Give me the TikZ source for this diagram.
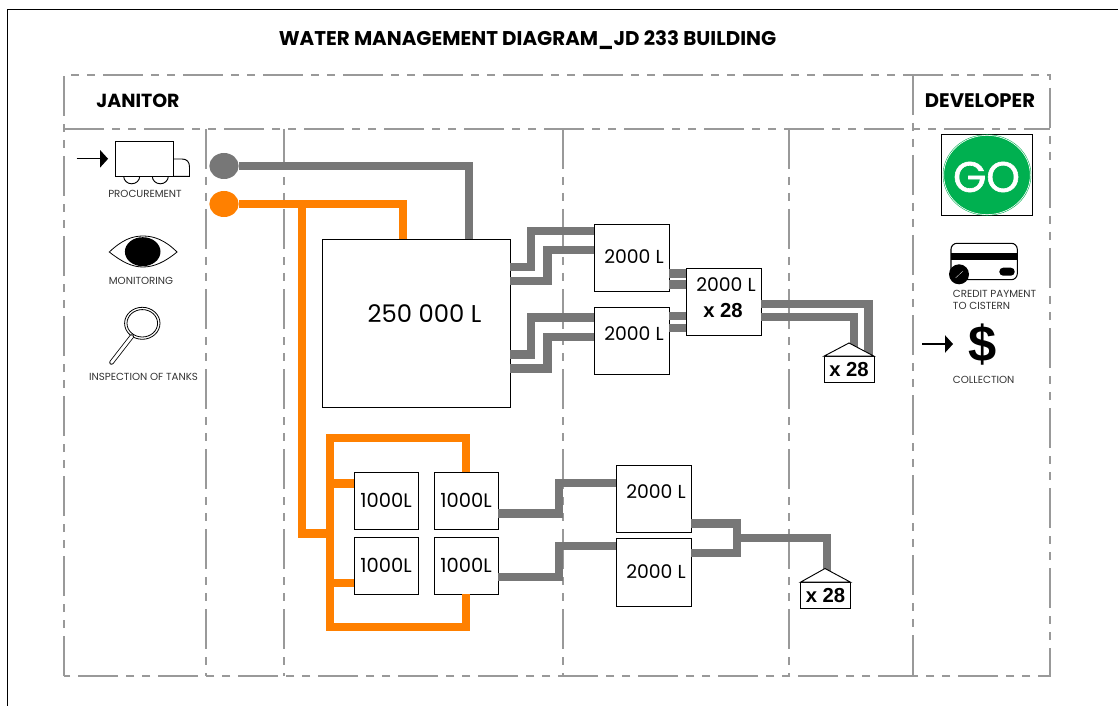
\documentclass[tikz,border=0pt]{standalone}
\usepackage{fontspec}
\setmainfont{Poppins}
\newfontfamily\plainbold{Liberation Sans}[BoldFont={Liberation Sans Bold}]
\newfontfamily\gofont{Poppins}[FakeBold=1.4]
\usetikzlibrary{arrows.meta,calc,positioning,shapes.geometric}
\definecolor{Grid}{HTML}{999999}
\definecolor{Pipe}{HTML}{777777}
\definecolor{Feed}{HTML}{FF8000}
\definecolor{Go}{HTML}{00B050}
\definecolor{Caption}{HTML}{333333}
\tikzset{
  gridline/.style={Grid,line width=0.85pt,dash pattern=on 30pt off 6pt on 6pt off 6pt on 6pt off 6pt},
  greypipe/.style={Pipe,line width=6.3pt},
  feedpipe/.style={Feed,line width=6.3pt},
  tank/.style={draw=black,line width=0.7pt,inner sep=0pt,outer sep=0pt,font=\fontsize{14.6}{16}\selectfont},
  tanktext/.style={inner sep=0pt,font=\fontsize{14.1}{16}\selectfont},
  housebox/.style={draw=black,line width=0.7pt,inner sep=0pt,outer sep=0pt,minimum width=37.5pt,minimum height=20pt,font=\plainbold\fontsize{15.2}{17}\selectfont\bfseries},
  roof/.style={draw=black,fill=white,line width=0.7pt,line join=miter},
  heading/.style={inner sep=0pt,font=\fontsize{14.2}{16}\selectfont\bfseries},
  caption/.style={inner sep=0pt,text=Caption,font=\fontsize{7.7}{8.6}\selectfont},
  source/.style={ellipse,inner sep=0pt,outer sep=0pt,minimum width=22pt,minimum height=19.5pt},
  inarrow/.style={black,line width=0.9pt,-{Triangle[length=6pt,width=13pt]}}
}
\begin{document}
\begin{tikzpicture}[x=0.75pt,y=-0.75pt]
    \useasboundingbox (0,0) rectangle (1118,706);
    \draw[black,line width=0.9pt] (7.5,706) -- (7.5,9.5) -- (1118,9.5);

    \draw[gridline] (64,676) -- (64,75) -- (1050,75) -- (1050,676) -- cycle;
    \draw[gridline] (64,129) -- (1050,129);
    \foreach \gx in {206,284,563,789} {
      \draw[gridline] (\gx,129) -- (\gx,676);
    }
    \draw[gridline] (913,75) -- (913,676);

    \node[inner sep=0pt,font=\fontsize{14.9}{17}\selectfont\bfseries] (title) at (527.5,40) {WATER MANAGEMENT DIAGRAM\_JD 233 BUILDING};
    \node[heading] (janitor) at (138,100.5) {JANITOR};
    \node[heading,font=\fontsize{14.7}{16}\selectfont\bfseries] (developer) at (980,100.5) {DEVELOPER};

    \node[tank,minimum width=141pt,minimum height=126pt] (cistern) at (416,323) {};
    \node[tanktext,font=\fontsize{18.2}{20}\selectfont] (cisterntext) at (424.5,314) {250 000 L};

    \node[tank,minimum width=56.25pt,minimum height=50.25pt] (upperone) at (631.5,257.5) {};
    \node[tanktext] (upperonetext) at (634,257) {2000 L};
    \node[tank,minimum width=56.25pt,minimum height=50.25pt] (uppertwo) at (631.5,340.5) {};
    \node[tanktext] (uppertwotext) at (634,334) {2000 L};
    \node[tank,minimum width=56.25pt,minimum height=50.25pt] (uppermain) at (723.5,301.5) {};
    \node[tanktext] (uppermaintext) at (726,285) {2000 L};
    \node[tanktext,font=\plainbold\fontsize{15.2}{17}\selectfont\bfseries] (uppermaincount) at (723,310.5) {x 28};

    \node[tank,minimum width=48pt,minimum height=42.75pt] (smallone) at (386,500.5) {1000L};
    \node[tank,minimum width=48pt,minimum height=42.75pt] (smalltwo) at (466,500.5) {1000L};
    \node[tank,minimum width=48pt,minimum height=42.75pt] (smallthree) at (386,565.5) {1000L};
    \node[tank,minimum width=48pt,minimum height=42.75pt] (smallfour) at (466,565.5) {1000L};

    \node[tank,minimum width=56.25pt,minimum height=50.25pt] (lowerone) at (653.5,498.5) {};
    \node[tanktext] (loweronetext) at (656,492) {2000 L};
    \node[tank,minimum width=56.25pt,minimum height=51pt] (lowertwo) at (653.5,572) {};
    \node[tanktext] (lowertwotext) at (656,572) {2000 L};

    \node[housebox] (houseone) at (849,369.5) {\raisebox{-1.2pt}{x 28}};
    \node[housebox] (housetwo) at (825.5,595.5) {\raisebox{-1.2pt}{x 28}};

    \node[source,fill=Pipe] (greysource) at (224,166) {};
    \node[source,fill=Feed] (feedsource) at (224,204) {};

    \draw[greypipe] (greysource) -| (cistern.north -| 469,0);
    \draw[feedpipe] (feedsource) -| (cistern.north -| 403,0);
    \draw[feedpipe] (302,204) |- (330,533.5);
    \draw[feedpipe] (smalltwo.north) |- (330,438) -- (330,627) -| (smallfour.south);
    \draw[feedpipe] (330,483.5) -- (smallone.west |- 0,483.5);
    \draw[feedpipe] (330,583) -- (smallthree.west |- 0,583);

    \draw[greypipe] (cistern.east |- 0,267) -| (531,231) -- (upperone.west |- 0,231);
    \draw[greypipe] (cistern.east |- 0,281) -| (547.5,250) -- (upperone.west |- 0,250);
    \draw[greypipe] (cistern.east |- 0,354.5) -| (531,317.5) -- (uppertwo.west |- 0,317.5);
    \draw[greypipe] (cistern.east |- 0,368.5) -| (547.5,337) -- (uppertwo.west |- 0,337);
    \draw[greypipe] (upperone.east |- 0,273.5) -- (uppermain.west |- 0,273.5);
    \draw[greypipe] (upperone.east |- 0,284.5) -- (uppermain.west |- 0,284.5);
    \draw[greypipe] (uppertwo.east |- 0,316) -- (uppermain.west |- 0,316);
    \draw[greypipe] (uppertwo.east |- 0,328) -- (uppermain.west |- 0,328);
    \draw[greypipe] (uppermain.east |- 0,304) -| (houseone.north -| 868.5,0);
    \draw[greypipe] (uppermain.east |- 0,317) -| (houseone.north -| 854,0);

    \draw[greypipe] (smalltwo.east |- 0,513.5) -| (559,483) -- (lowerone.west |- 0,483);
    \draw[greypipe] (smallfour.east |- 0,577) -| (559,546) -- (lowertwo.west |- 0,546);
    \draw[greypipe] (lowerone.east |- 0,523.5) -| (737,553) -- (lowertwo.east |- 0,553);
    \draw[greypipe] (737,538) -| (housetwo.north -| 827,0);

    \coordinate (roofone) at (849,343);
    \coordinate (rooftwo) at (825,568.5);
    \draw[roof] (houseone.north west) -- (roofone) -- (houseone.north east) -- cycle;
    \draw[roof] (housetwo.north west) -- (rooftwo) -- (housetwo.north east) -- cycle;

    \coordinate (truckin) at (76.5,158.8);
    \node[draw=black,line width=0.7pt,inner sep=0pt,outer sep=0pt,minimum width=43.3pt,minimum height=26.3pt] (truck) at (144.4,158.8) {};
    \draw[black,line width=0.7pt] (truck.east) ++(0,0.2) -- (182,159) .. controls (187,159) and (189.5,162) .. (189.5,167) -- (189.5,176.3) -- (173.3,176.3);
    \draw[black,line width=0.7pt] (123.7,176.3) arc[start angle=180,end angle=0,x radius=8,y radius=7.5];
    \draw[black,line width=0.7pt] (152.3,176.3) arc[start angle=180,end angle=0,x radius=8,y radius=7.5];
    \draw[inarrow,shorten >=5.6pt] (truckin) -- (truck);
    \node[caption] (procurement) at (145,194) {PROCUREMENT};

    \draw[black,line width=0.6pt] (109.3,252) .. controls (122,240) and (132,236) .. (143,236) .. controls (154,236) and (165,240) .. (177,252) .. controls (165,262) and (154,267) .. (143,267) .. controls (132,267) and (122,262) .. (109.3,252) -- cycle;
    \fill[black] (142.7,251.7) ellipse[x radius=17.8,y radius=14.5];
    \node[caption] (monitoring) at (141,280.5) {MONITORING};

    \draw[black,line width=0.6pt] (142.3,323.3) ellipse[x radius=17.7,y radius=16];
    \draw[black,line width=0.6pt] (142.3,323.3) ellipse[x radius=15.3,y radius=13.7];
    \draw[black,line width=3.4pt,line cap=round] (131.7,336.5) -- (111.5,362.5);
    \draw[white,line width=2.2pt,line cap=round] (131.7,336.5) -- (111.5,362.5);
    \node[caption] (inspection) at (143.5,377.3) {INSPECTION OF TANKS};

    \node[draw=black,line width=0.7pt,inner sep=0pt,minimum width=68.5pt,minimum height=61.3pt] (goframe) at (987,175) {};
    \node[ellipse,fill=Go,draw=white,line width=0.5pt,inner sep=0pt,minimum width=65pt,minimum height=59.5pt] (gosign) at (goframe.center) {};
    \node[ellipse,draw=Go,line width=0.3pt,inner sep=0pt,minimum width=66pt,minimum height=60.5pt] (goring) at (goframe.center) {};
    \node[inner sep=0pt,text=white,font=\gofont\fontsize{32}{34}\selectfont] (gotext) at (986.5,177) {GO};

    \draw[black,line width=0.8pt,rounded corners=4.5pt] (951,243.3) rectangle (1017.3,279.7);
    \fill[black] (951,252.7) rectangle (1017.3,260);
    \fill[black] (959,274.3) circle[radius=10];
    \draw[white,line width=0.2pt] (955.5,278) -- (963,271);
    \fill[black,rounded corners=2.9pt] (999.3,267.7) rectangle (1014.7,275.7);
    \node[caption,anchor=west,align=left] (creditpayment) at (952.7,299.8) {CREDIT PAYMENT\\TO CISTERN};

    \coordinate (cashin) at (922,344);
    \node[inner sep=0pt,font=\plainbold\fontsize{38}{40}\selectfont\bfseries] (dollar) at (982.7,345) {\$};
    \draw[inarrow,shorten >=11.5pt] (cashin) -- (dollar.west |- cashin);
    \node[caption,anchor=west] (collection) at (952.7,379.8) {COLLECTION};
  \end{tikzpicture}
\end{document}
